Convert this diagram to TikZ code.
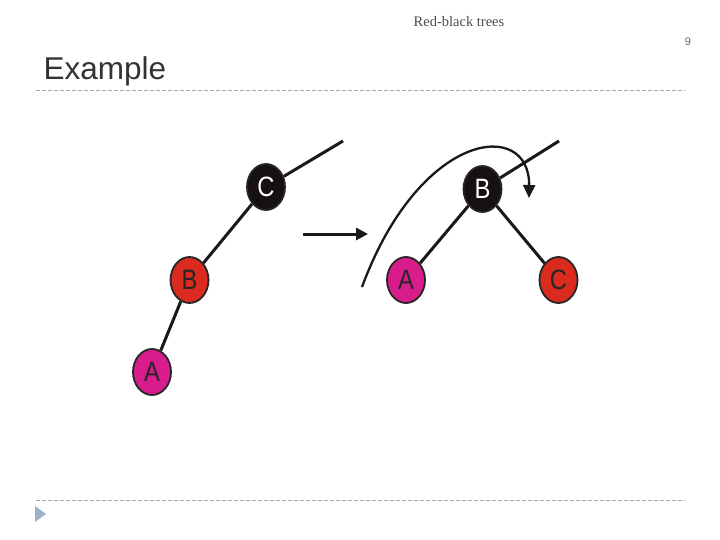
\documentclass[tikz,border=0pt]{standalone}
\usepackage{fontspec}
\setmainfont{Liberation Serif}
\setsansfont{Liberation Sans}
\usetikzlibrary{shapes.geometric,arrows.meta}
\definecolor{rbred}{HTML}{DB2A1E}
\definecolor{rbpink}{HTML}{D81C8C}
\definecolor{rbblack}{HTML}{161010}
\definecolor{rule}{HTML}{A8A8A8}
\definecolor{bullet}{HTML}{9DB2C6}
\tikzset{
  rbnode/.style={ellipse, draw=black!85, line width=1.8pt, minimum width=38pt,
    minimum height=46pt, inner sep=0pt, font=\sffamily\fontsize{28}{28}\selectfont},
  blk/.style={rbnode, fill=rbblack, text=white},
  red/.style={rbnode, fill=rbred, text=black!85},
  pink/.style={rbnode, fill=rbpink, text=black!85},
  edge/.style={line width=3pt, black!90},
}
\newcommand{\rbkey}[1]{\scalebox{0.85}[1]{#1}}
\begin{document}
\begin{tikzpicture}[x=1pt,y=-1pt]
\useasboundingbox (0,0) rectangle (720,540);
\node (title) at (459,22) {\fontsize{14.5}{15}\selectfont\color{black!70}Red-black trees};
\node (page) at (688,42) {\sffamily\fontsize{11}{12}\selectfont\color{black!60}9};
\node (head) [anchor=base west] at (40,80) {\sffamily\fontsize{31.5}{33}\selectfont\color{black!80}Example};
\draw[rule, dashed, dash pattern=on 4pt off 2pt] (36,90) -- (685,90);
\draw[rule, dashed, dash pattern=on 4pt off 2pt] (36,500) -- (685,500);
\fill[bullet] (35,506) -- (46,514) -- (35,522) -- cycle;
% before
\coordinate (up1) at (343,141);
\node (C1) [blk] at (266,187) {\rbkey{C}};
\node (B1) [red] at (189.5,280) {\rbkey{B}};
\node (A1) [pink] at (152,372) {\rbkey{A}};
\draw[edge] (C1) -- (up1);
\draw[edge] (C1) -- (B1);
\draw[edge] (B1) -- (A1);
% rotation arrow
\coordinate (from) at (303,234);
\coordinate (to) at (368,234);
\draw[edge, -{Triangle[length=12pt,width=12pt]}] (from) -- (to);
% after
\coordinate (up2) at (559,141);
\node (B2) [blk] at (482.5,189) {\rbkey{B}};
\node (A2) [pink] at (406,280) {\rbkey{A}};
\node (C2) [red] at (558.5,280) {\rbkey{C}};
\draw[edge] (B2) -- (up2);
\draw[edge] (B2) -- (A2);
\draw[edge] (B2) -- (C2);
\coordinate (turn0) at (362,287);
\coordinate (turn1) at (529,198);
\draw[line width=2.3pt, black!90, -{Triangle[length=13pt,width=12pt]}]
  (turn0) .. controls (420,130) and (530,118) .. (turn1);
\end{tikzpicture}
\end{document}
